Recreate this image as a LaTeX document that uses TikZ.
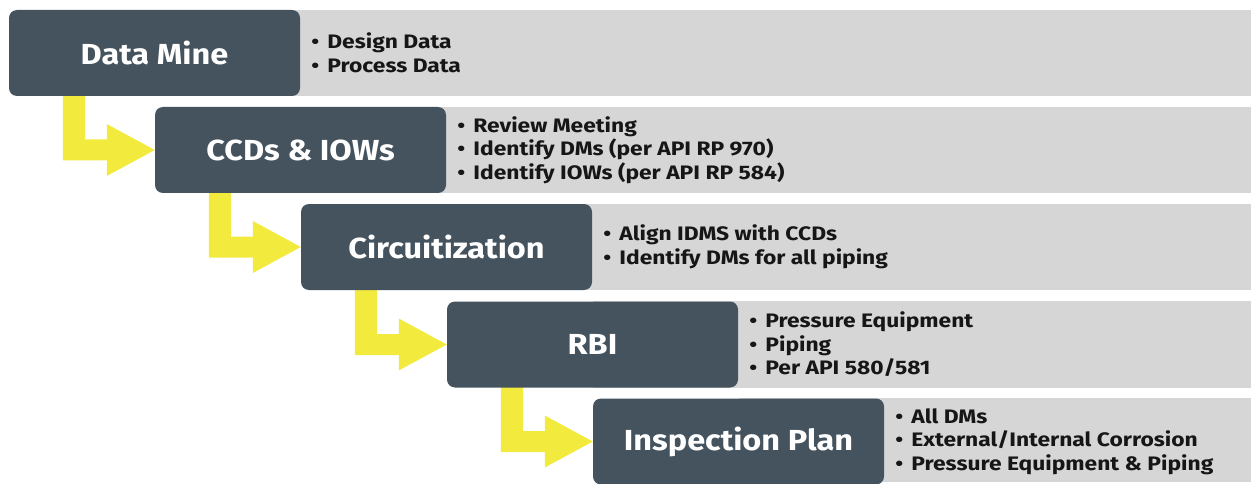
\documentclass[tikz,border=0pt]{standalone}
\usepackage{fontspec}
\setmainfont{Fira Sans}
\newfontfamily\titlefont[FakeStretch=1.12]{Fira Sans}
\newfontfamily\notefont[FakeStretch=1.17]{Fira Sans}
\usetikzlibrary{calc,backgrounds}
\definecolor{slate}{HTML}{44535E}
\definecolor{bandgray}{HTML}{D6D6D6}
\definecolor{ylw}{HTML}{F3EA3E}
\definecolor{ink}{HTML}{161616}
\newcommand{\bl}[1]{\makebox[16pt][l]{\textbullet}#1}
\newcommand{\flowarrow}[2]{%
  \fill[flow] let \p1=(#1.south west), \p2=(#2.west) in
    (\x1+54pt,\y1+2pt) -- (\x1+76pt,\y1+2pt) -- (\x1+76pt,\y2+10.5pt)
    -- (\x2-48pt,\y2+10.5pt) -- (\x2-48pt,\y2+26pt) -- (\x2,\y2)
    -- (\x2-48pt,\y2-26pt) -- (\x2-48pt,\y2-10.5pt) -- (\x1+54pt,\y2-10.5pt) -- cycle;}
\begin{document}
\begin{tikzpicture}[x=1pt,y=-1pt,
  stepbox/.style={rectangle, rounded corners=8pt, fill=slate, minimum width=291pt,
    minimum height=86pt, inner sep=0pt, text=white,
    font=\titlefont\fontsize{29}{32}\selectfont\bfseries},
  bandbox/.style={fill=bandgray},
  notes/.style={anchor=west, align=left, text=ink, inner sep=0pt, xshift=11pt,
    font=\notefont\fontsize{19.5}{23.5}\selectfont\bfseries},
  flow/.style={fill=ylw}]
\useasboundingbox (0,0) rectangle (1251,484);
\coordinate (right) at (1251,0);
\node[stepbox] (s1) at (154.5,53) {Data Mine};
\node[stepbox] (s2) at (300.5,150) {CCDs \& IOWs};
\node[stepbox] (s3) at (446.5,247) {Circuitization};
\node[stepbox] (s4) at (592.5,344.5) {RBI};
\node[stepbox] (s5) at (738.5,441.5) {Inspection Plan};
\begin{scope}[on background layer]
  \foreach \s in {s1,s2,s3,s4} {\fill[bandbox] (\s.north) rectangle (\s.south -| right);}
  \fill[bandbox] (s5.north) rectangle ($(s5.south -| right)+(0,-2.5)$);
  \flowarrow{s1}{s2}
  \flowarrow{s2}{s3}
  \flowarrow{s3}{s4}
  \flowarrow{s4}{s5}
\end{scope}
\node[notes] (n1) at (s1.east) {\bl{Design Data}\\\bl{Process Data}};
\node[notes] (n2) at (s2.east) {\bl{Review Meeting}\\\bl{Identify DMs (per API RP 970)}\\\bl{Identify IOWs (per API RP 584)}};
\node[notes] (n3) at (s3.east) {\bl{Align IDMS with CCDs}\\\bl{Identify DMs for all piping}};
\node[notes] (n4) at (s4.east) {\bl{Pressure Equipment}\\\bl{Piping}\\\bl{Per API 580/581}};
\node[notes] (n5) at (s5.east) {\bl{All DMs}\\\bl{External/Internal Corrosion}\\\bl{Pressure Equipment \& Piping}};
\end{tikzpicture}
\end{document}
